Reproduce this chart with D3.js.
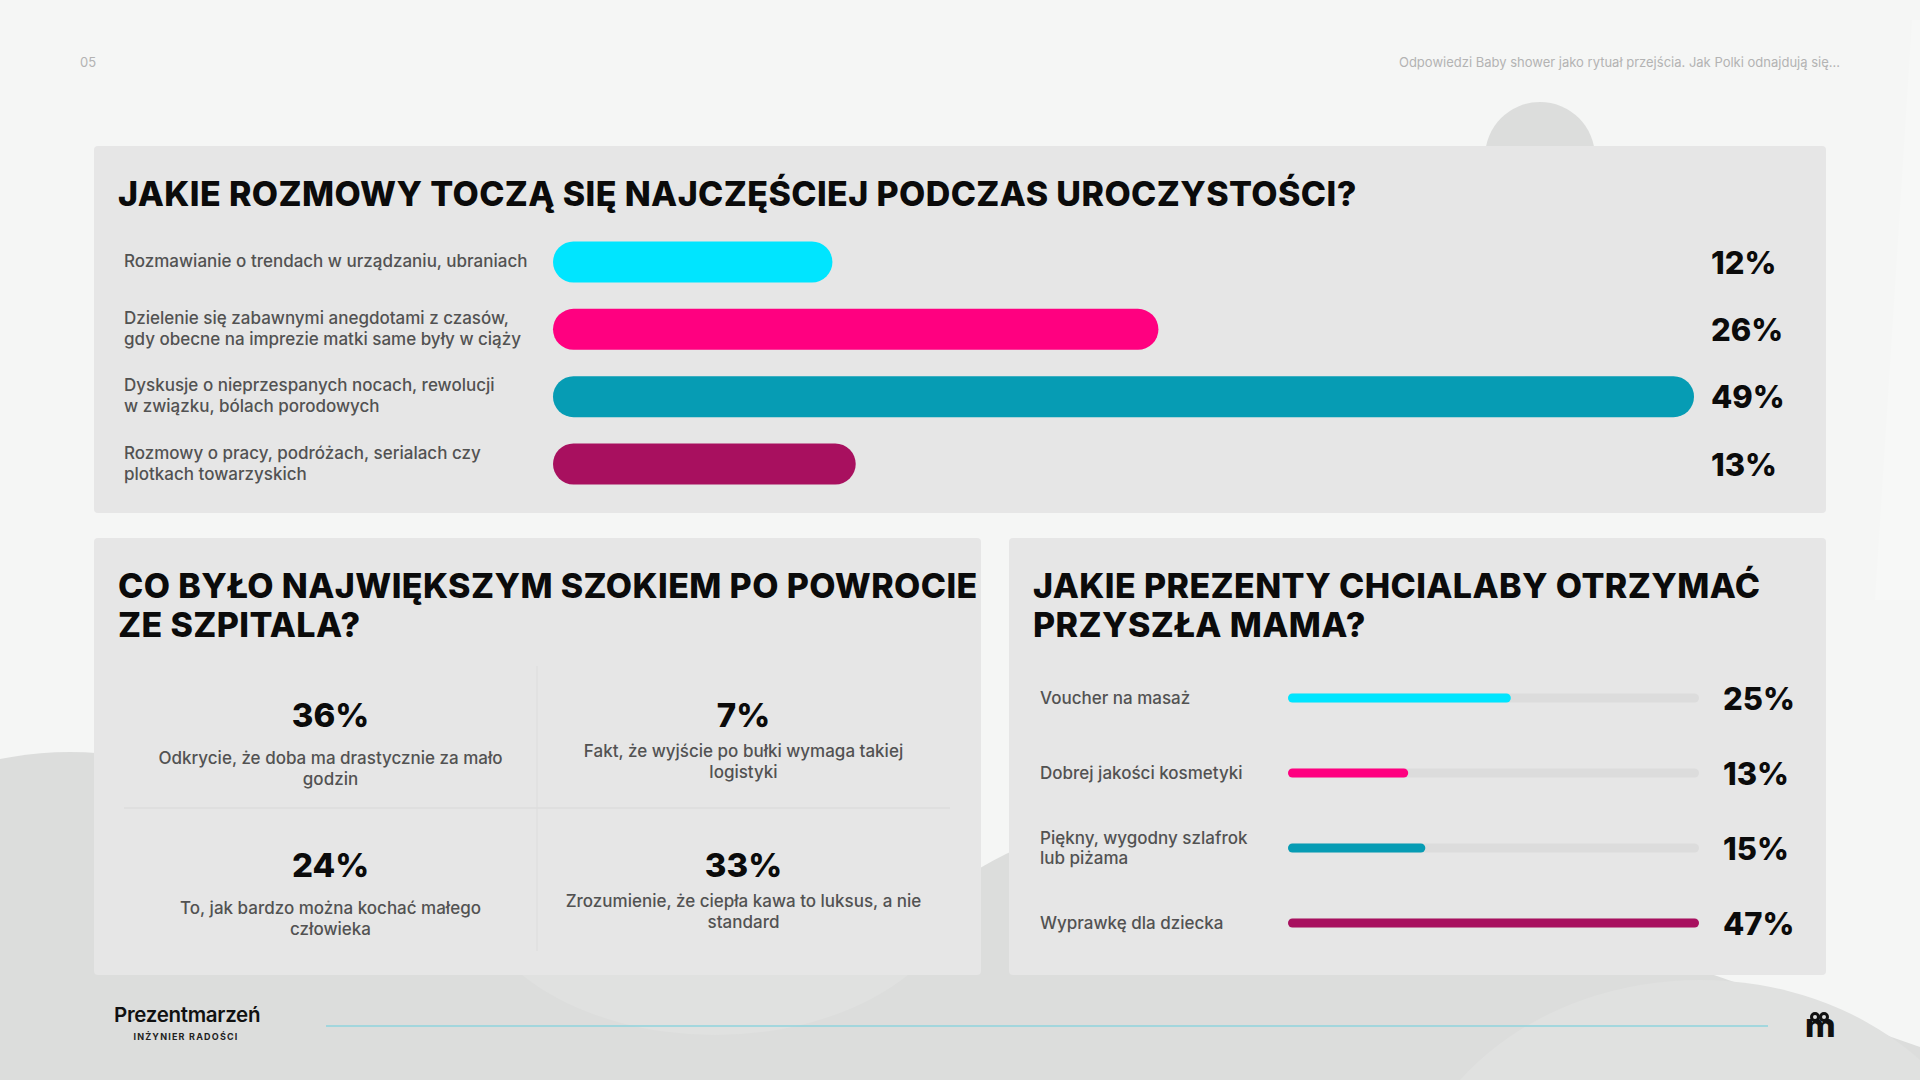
<!DOCTYPE html>
<html>
<head>
<meta charset="utf-8">
<script src="https://cdn.jsdelivr.net/npm/d3@7"></script>
<style>
  html, body { margin: 0; padding: 0; background: #f5f6f5; }
  svg { display: block; font-family: Inter, "Noto Sans", sans-serif; }
</style>
</head>
<body>
<div id="dataviz"></div>
<script>
const width = 1920, height = 1080;

// top chart: conversations
const talkLabels = [
  "Rozmawianie o trendach w urządzaniu, ubraniach",
  "Dzielenie się zabawnymi anegdotami z czasów,\ngdy obecne na imprezie matki same były w ciąży",
  "Dyskusje o nieprzespanych nocach, rewolucji\nw związku, bólach porodowych",
  "Rozmowy o pracy, podróżach, serialach czy\nplotkach towarzyskich"
];
const talkValues = [12, 26, 49, 13];

// bottom left: shock after hospital
const shockLabels = [
  "Odkrycie, że doba ma drastycznie za mało\ngodzin",
  "Fakt, że wyjście po bułki wymaga takiej\nlogistyki",
  "To, jak bardzo można kochać małego\nczłowieka",
  "Zrozumienie, że ciepła kawa to luksus, a nie\nstandard"
];
const shockValues = [36, 7, 24, 33];

// bottom right: gifts
const giftLabels = [
  "Voucher na masaż",
  "Dobrej jakości kosmetyki",
  "Piękny, wygodny szlafrok\nlub piżama",
  "Wyprawkę dla dziecka"
];
const giftValues = [25, 13, 15, 47];

const colors = ["#00e5ff", "#ff0080", "#069cb4", "#a8105f"];

let svg = d3.select("#dataviz")
  .append("svg")
  .attr("width", width)
  .attr("height", height);

// background shapes
const bg = svg.append("g");
bg.append("rect").attr("width", width).attr("height", height).attr("fill", "#f5f6f5");
bg.append("ellipse").attr("cx", 70).attr("cy", 1010).attr("rx", 300).attr("ry", 258).attr("fill", "#dcdddc");
bg.append("ellipse").attr("cx", 1160).attr("cy", 1060).attr("rx", 300).attr("ry", 240).attr("fill", "#dcdddc");
bg.append("path").attr("d", "M0,975 L1714,975 L1920,1047 L1920,1080 L0,1080 Z").attr("fill", "#dcdddc");
bg.append("ellipse").attr("cx", 715).attr("cy", 870).attr("rx", 250).attr("ry", 165).attr("fill", "#e0e1e0");
bg.append("ellipse").attr("cx", 1700).attr("cy", 1230).attr("rx", 300).attr("ry", 250).attr("fill", "#e0e1e0");
bg.append("circle").attr("cx", 1540).attr("cy", 157).attr("r", 55).attr("fill", "#dcdddc");
bg.append("path").attr("d", "M1920,20 L1912,20 L1875,600 L1920,600 Z").attr("fill", "#f7f8f7");

// page header
svg.append("text").attr("x", 80).attr("y", 67).attr("font-size", 13).attr("fill", "#b3b3b3").text("05");
svg.append("text").attr("x", 1840).attr("y", 67).attr("font-size", 13).attr("fill", "#b3b3b3")
  .attr("text-anchor", "end")
  .text("Odpowiedzi Baby shower jako rytuał przejścia. Jak Polki odnajdują się...");

// panels
const panels = [[94, 146, 1732, 367], [94, 538, 887, 437], [1009, 538, 817, 437]];
svg.selectAll(".panel").data(panels).join("rect")
  .attr("class", "panel")
  .attr("x", d => d[0]).attr("y", d => d[1])
  .attr("width", d => d[2]).attr("height", d => d[3])
  .attr("rx", 4).attr("fill", "#e6e6e6");

function title(x, y, lines) {
  const t = svg.append("text").attr("x", x).attr("y", y)
    .attr("font-size", 34).attr("font-weight", 800).attr("fill", "#0b0b0b")
    .attr("letter-spacing", 0.4);
  lines.forEach((l, i) => t.append("tspan").attr("x", x).attr("dy", i ? 38.5 : 0).text(l));
}

// multi-line label helper, lines centred around y
function label(g, text, x, y, anchor, lh) {
  const lines = text.split("\n");
  const t = g.append("text").attr("x", x).attr("y", y).attr("text-anchor", anchor)
    .attr("font-size", 17).attr("font-weight", 500).attr("fill", "#525252")
    .attr("dominant-baseline", "central");
  lines.forEach((l, i) => t.append("tspan").attr("x", x)
    .attr("dy", i ? lh : -(lines.length - 1) * lh / 2).text(l));
}

// ---------- top chart ----------
title(118, 206, ["JAKIE ROZMOWY TOCZĄ SIĘ NAJCZĘŚCIEJ PODCZAS UROCZYSTOŚCI?"]);

const x1 = d3.scaleLinear().domain([0, d3.max(talkValues)]).range([553, 1694]);
const y1 = d3.scalePoint().domain(d3.range(talkValues.length)).range([262, 464]);
const barH = 41;

const topG = svg.append("g");
talkLabels.forEach((l, i) => label(topG, l, 124, y1(i) - 1, "start", 21));

topG.selectAll(".bar").data(talkValues).join("rect")
  .attr("class", "bar")
  .attr("x", x1(0))
  .attr("y", (d, i) => y1(i) - barH / 2)
  .attr("width", d => x1(d) - x1(0))
  .attr("height", barH)
  .attr("rx", barH / 2)
  .attr("fill", (d, i) => colors[i]);

topG.selectAll(".val").data(talkValues).join("text")
  .attr("class", "val")
  .attr("x", 1711)
  .attr("y", (d, i) => y1(i))
  .attr("dominant-baseline", "central")
  .attr("font-size", 31).attr("font-weight", 800).attr("fill", "#0b0b0b")
  .text(d => d + "%");

// ---------- bottom left grid ----------
title(118, 598, ["CO BYŁO NAJWIĘKSZYM SZOKIEM PO POWROCIE", "ZE SZPITALA?"]);

const gx = d3.scaleBand().domain([0, 1]).range([124, 950]);
const gy = d3.scaleBand().domain([0, 1]).range([658, 958]);
const labelShift = [0, -7];
const grid = svg.append("g");

grid.append("line").attr("x1", gx(1)).attr("x2", gx(1)).attr("y1", 666).attr("y2", 951)
  .attr("stroke", "#dcdcdc").attr("stroke-width", 1);
grid.append("line").attr("x1", 124).attr("x2", 950).attr("y1", gy(1)).attr("y2", gy(1))
  .attr("stroke", "#dcdcdc").attr("stroke-width", 1.5);

shockValues.forEach((v, i) => {
  const col = i % 2;
  const cx = gx(col) + gx.bandwidth() / 2;
  const rowTop = gy(Math.floor(i / 2));
  grid.append("text").attr("x", cx).attr("y", rowTop + 57)
    .attr("text-anchor", "middle").attr("dominant-baseline", "central")
    .attr("font-size", 33).attr("font-weight", 800).attr("fill", "#0b0b0b")
    .text(v + "%");
  label(grid, shockLabels[i], cx, rowTop + 110 + labelShift[col], "middle", 21);
});

// ---------- bottom right bars ----------
title(1033, 598, ["JAKIE PREZENTY CHCIALABY OTRZYMAĆ", "PRZYSZŁA MAMA?"]);

const trackH = 9;
const trackX = [1288, 1699];
// pill bars: the rounded cap adds one bar height to every length
const x2 = d3.scaleLinear().domain([0, d3.max(giftValues)]).range([trackX[0], trackX[1] - trackH]);
const y2 = d3.scalePoint().domain(d3.range(giftValues.length)).range([698, 923]);
const gifts = svg.append("g");

giftLabels.forEach((l, i) => label(gifts, l, 1040, y2(i), "start", 20));

gifts.selectAll(".track").data(giftValues).join("rect")
  .attr("class", "track")
  .attr("x", trackX[0]).attr("y", (d, i) => y2(i) - trackH / 2)
  .attr("width", trackX[1] - trackX[0]).attr("height", trackH)
  .attr("rx", trackH / 2).attr("fill", "#dcdcdc");

gifts.selectAll(".gbar").data(giftValues).join("rect")
  .attr("class", "gbar")
  .attr("x", x2(0)).attr("y", (d, i) => y2(i) - trackH / 2)
  .attr("width", d => x2(d) - x2(0) + trackH).attr("height", trackH)
  .attr("rx", trackH / 2).attr("fill", (d, i) => colors[i]);

gifts.selectAll(".gval").data(giftValues).join("text")
  .attr("class", "gval")
  .attr("x", 1723).attr("y", (d, i) => y2(i))
  .attr("dominant-baseline", "central")
  .attr("font-size", 31).attr("font-weight", 800).attr("fill", "#0b0b0b")
  .text(d => d + "%");

// ---------- footer ----------
svg.append("text").attr("x", 114).attr("y", 1022)
  .attr("font-size", 20.5).attr("font-weight", 600).attr("fill", "#111")
  .attr("letter-spacing", -0.3)
  .text("Prezentmarzeń");
svg.append("text").attr("x", 186).attr("y", 1040).attr("text-anchor", "middle")
  .attr("font-size", 9).attr("font-weight", 700).attr("fill", "#222")
  .attr("letter-spacing", 1.2)
  .text("INŻYNIER RADOŚCI");
svg.append("line").attr("x1", 326).attr("x2", 1768).attr("y1", 1026).attr("y2", 1026)
  .attr("stroke", "#8fd3de").attr("stroke-width", 1.5);

// small brand mark
const mark = svg.append("g").attr("transform", "translate(1805,1013)");
mark.append("text").attr("x", 0).attr("y", 24).attr("font-size", 33).attr("font-weight", 800)
  .attr("fill", "#111").text("m");
mark.append("circle").attr("cx", 10).attr("cy", 4).attr("r", 3.5).attr("fill", "none").attr("stroke", "#111").attr("stroke-width", 3);
mark.append("circle").attr("cx", 19).attr("cy", 4).attr("r", 3.5).attr("fill", "none").attr("stroke", "#111").attr("stroke-width", 3);
</script>
</body>
</html>
